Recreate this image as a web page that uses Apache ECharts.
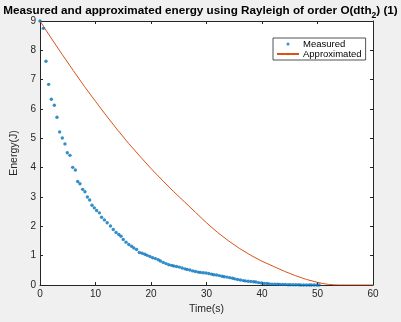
<!DOCTYPE html>
<html><head><meta charset="utf-8">
<script src="https://cdn.jsdelivr.net/npm/echarts@6/dist/echarts.min.js"></script>
<style>html,body{margin:0;padding:0;background:#f0f0f0}#c{width:401px;height:322px}</style>
</head><body><div id="c"></div>
<script>
var measuredTime = [0,0.6,1.08,1.56,2.04,2.58,3.06,3.54,4.02,4.5,4.92,5.4,5.89,6.37,6.79,7.2,7.69,8.1,8.53,8.95,9.37,9.79,10.2,10.7,11.1,11.6,12.1,12.7,13.2,13.7,14.2,14.6,15.0,15.5,16.0,16.5,16.9,17.4,17.9,18.4,18.9,19.3,19.8,20.3,20.8,21.3,21.7,22.2,22.7,23.2,23.7,24.1,24.6,25.1,25.6,26.1,26.5,27.0,27.5,28.0,28.5,28.9,29.4,29.9,30.4,30.9,31.3,31.8,32.3,32.8,33.2,33.7,34.2,34.7,35.1,35.6,36.1,36.6,37.0,37.5,38.0,38.5,38.9,39.4,39.9,40.4,40.9,41.3,41.8,42.3,42.8,43.2,43.7,44.2,44.7,45.1,45.6,46.1,46.6,47.0,47.5,48.0,48.5,48.9,49.4,49.9,50.3];
var measuredEnergy = [9.0,8.75,7.63,6.84,6.33,6.13,5.72,5.22,5.01,4.81,4.51,4.42,4.01,3.92,3.53,3.45,3.26,3.18,3.0,2.90,2.72,2.63,2.54,2.46,2.31,2.22,2.12,2.01,1.89,1.79,1.72,1.66,1.55,1.46,1.38,1.32,1.26,1.21,1.11,1.08,1.05,1.01,0.97,0.93,0.90,0.86,0.82,0.77,0.73,0.69,0.67,0.65,0.63,0.61,0.58,0.55,0.53,0.51,0.48,0.46,0.44,0.43,0.42,0.41,0.39,0.37,0.35,0.34,0.32,0.30,0.28,0.27,0.25,0.23,0.21,0.19,0.17,0.15,0.14,0.13,0.12,0.11,0.10,0.08,0.07,0.05,0.05,0.04,0.03,0.03,0.03,0.02,0.02,0.02,0.01,0.01,0.01,0.01,0.01,0.0,0.0,0.0,0.0,0.0,0.0,0.0,0.0];
var approxTime = [0,2,4,6,8,10,12,14,16,18,20,22,24,26,28,30,32,34,36,38,40,42,44,46,48,50,51,52,53,54,56,58,60];
var approxEnergy = [9.0,8.42,7.86,7.31,6.77,6.26,5.76,5.28,4.82,4.39,3.97,3.58,3.20,2.84,2.48,2.12,1.79,1.50,1.24,1.01,0.81,0.64,0.47,0.32,0.19,0.09,0.05,0.02,0.005,0.0,0.0,0.0,0.0];
var xTicks = {min:0, max:60, interval:10};
var yTicks = {min:0, max:9, interval:1};

function pairs(a,b){return a.map(function(v,i){return [v,b[i]];});}
var axisCol = '#262626';
var chart = echarts.init(document.getElementById('c'), null, {renderer:'canvas'});
var baseAxis = {
  axisLine:{show:true,onZero:false,lineStyle:{color:axisCol,width:1}},
  axisTick:{show:true,inside:true,length:3,lineStyle:{color:axisCol}},
  splitLine:{show:false}
};
chart.setOption({
  backgroundColor:'#f0f0f0',
  animation:false,
  title:{
    text:'{a|Measured and approximated energy using Rayleigh of order O(dth}{s|2}{a|) (1)}',
    left:'center', top:0,
    textStyle:{rich:{
      a:{fontFamily:'Liberation Sans',fontWeight:'bold',fontSize:11.7,color:'#000',lineHeight:15,verticalAlign:'top'},
      s:{fontFamily:'Liberation Sans',fontWeight:'bold',fontSize:8.5,color:'#000',lineHeight:15,verticalAlign:'bottom',padding:[6,0,0,0]}
    }}
  },
  grid:{left:40,top:21,right:28,bottom:37,backgroundColor:'#fff',show:true,borderWidth:0},
  legend:{
    orient:'vertical', left:273, top:38,
    padding:[1,4,1,3], itemGap:0, itemWidth:22, itemHeight:3,
    backgroundColor:'#fff', borderColor:axisCol, borderWidth:0.8,
    textStyle:{fontFamily:'Liberation Sans',fontSize:9.5,color:'#000',lineHeight:10,padding:[0,0,0,-1]},
    data:[{name:'Measured',icon:'circle'},{name:'Approximated'}]
  },
  xAxis:[
    Object.assign({type:'value',min:xTicks.min,max:xTicks.max,interval:xTicks.interval,position:'bottom',
      name:'Time(s)',nameLocation:'middle',nameGap:15,
      nameTextStyle:{fontFamily:'Liberation Sans',fontSize:10.5,color:axisCol},
      axisLabel:{fontFamily:'Liberation Sans',fontSize:10,color:axisCol,margin:4}},baseAxis),
    Object.assign({type:'value',min:xTicks.min,max:xTicks.max,interval:xTicks.interval,position:'top',
      axisLabel:{show:false}},baseAxis)
  ],
  yAxis:[
    Object.assign({type:'value',min:yTicks.min,max:yTicks.max,interval:yTicks.interval,position:'left',
      name:'Energy(J)',nameLocation:'middle',nameGap:19,nameRotate:90,
      nameTextStyle:{fontFamily:'Liberation Sans',fontSize:10.5,color:axisCol},
      axisLabel:{fontFamily:'Liberation Sans',fontSize:10,color:axisCol,margin:4}},baseAxis),
    Object.assign({type:'value',min:yTicks.min,max:yTicks.max,interval:yTicks.interval,position:'right',
      axisLabel:{show:false}},baseAxis)
  ],
  series:[
    {name:'Measured',type:'scatter',data:pairs(measuredTime,measuredEnergy),symbol:'circle',symbolSize:3.4,
     itemStyle:{color:'#0072BD'},z:3},
    {name:'Approximated',type:'line',data:pairs(approxTime,approxEnergy),symbol:'none',smooth:false,
     lineStyle:{color:'#D95319',width:1},itemStyle:{color:'#D95319'},z:2}
  ]
});
</script></body></html>
